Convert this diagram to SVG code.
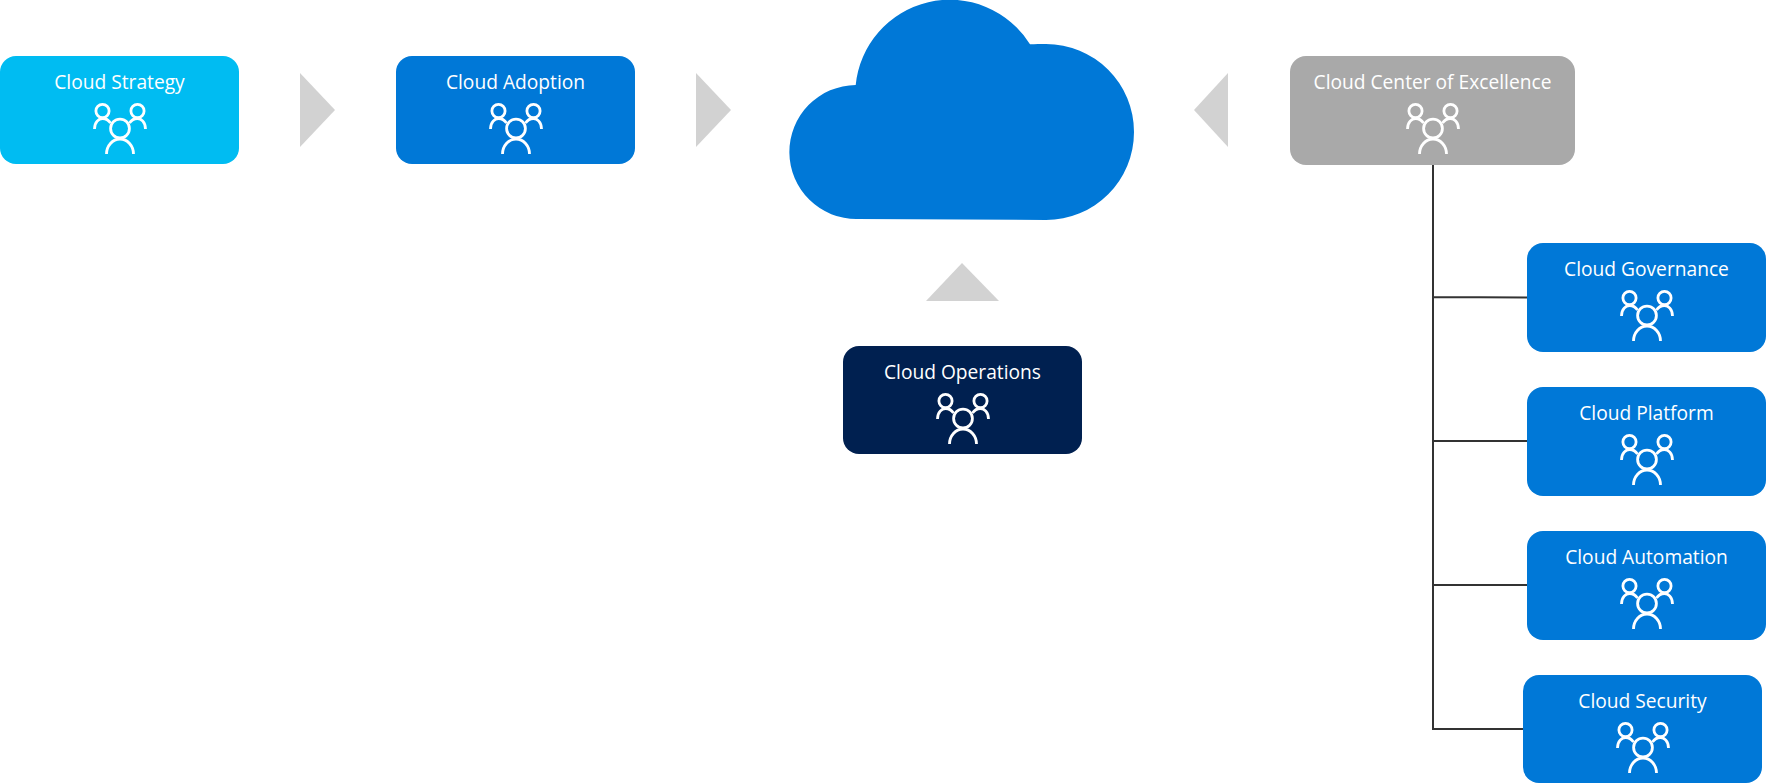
<svg xmlns="http://www.w3.org/2000/svg" width="1766" height="783" viewBox="0 0 1766 783">
<style>
.box{stroke:none}
.lbl{font-family:"Open Sans","Noto Sans","Liberation Sans",sans-serif;font-size:19.2px;fill:#fff;text-anchor:middle}
.ic{fill:none;stroke:#fff;stroke-width:2.8}
.tri{fill:#d2d2d2}
.con{stroke:#333;stroke-width:2;fill:none}
</style>
<defs>
<g id="people" class="ic">
<circle cx="-17.500" cy="55" r="6.600"/><circle cx="17.500" cy="55" r="6.600"/><circle cx="0" cy="72.500" r="9.400"/>
<path d="M-25.500 73C-25.500 66-21 62.500-17.500 62.500C-14 62.500-11.500 64-9.500 67"/>
<path d="M25.500 73C25.500 66 21 62.500 17.500 62.500C14 62.500 11.500 64 9.500 67"/>
<path d="M-13.500 98C-13.500 90-7.500 83 0 83C7.500 83 13.500 90 13.500 98"/>
</g>
</defs>
<rect width="1766" height="783" fill="#fff"/>
<g id="connectors">
<path class="con" d="M1433 165V729H1523M1433 297L1527 297.500M1433 441H1527M1433 585H1527"/>
</g>
<g id="arrows">
<polygon class="tri" points="300,73 335,110 300,147"/>
<polygon class="tri" points="696,73 731,110 696,147"/>
<polygon class="tri" points="1228,73 1194,110 1228,147"/>
<polygon class="tri" points="926,301 962,263 999,301"/>
</g>
<g id="cloud"><path fill="#0078d7" d="M855.700 85A94.500 94.500 0 0 1 1030 44.300C1035 44 1041 44 1046 44A88 88 0 0 1 1046 220L857 219A67 67 0 0 1 855.700 85Z"/></g>
<g id="cloud-strategy"><rect class="box" x="0" y="56" width="239" height="108" rx="16" fill="#00bcf2"/><text class="lbl" x="119.500" y="88.500">Cloud Strategy</text><use href="#people" x="120" y="56"/></g>
<g id="cloud-adoption"><rect class="box" x="396" y="56" width="239" height="108" rx="16" fill="#0078d7"/><text class="lbl" x="515.500" y="88.500">Cloud Adoption</text><use href="#people" x="516" y="56"/></g>
<g id="cloud-coe"><rect class="box" x="1290" y="56" width="285" height="109" rx="16" fill="#a9a9a9"/><text class="lbl" x="1432.500" y="88.500">Cloud Center of Excellence</text><use href="#people" x="1433" y="56"/></g>
<g id="cloud-operations"><rect class="box" x="843" y="346" width="239" height="108" rx="16" fill="#002050"/><text class="lbl" x="962.500" y="378.500">Cloud Operations</text><use href="#people" x="963" y="346"/></g>
<g id="cloud-governance"><rect class="box" x="1527" y="243" width="239" height="109" rx="16" fill="#0078d7"/><text class="lbl" x="1646.500" y="275.500">Cloud Governance</text><use href="#people" x="1647" y="243"/></g>
<g id="cloud-platform"><rect class="box" x="1527" y="387" width="239" height="109" rx="16" fill="#0078d7"/><text class="lbl" x="1646.500" y="419.500">Cloud Platform</text><use href="#people" x="1647" y="387"/></g>
<g id="cloud-automation"><rect class="box" x="1527" y="531" width="239" height="109" rx="16" fill="#0078d7"/><text class="lbl" x="1646.500" y="563.500">Cloud Automation</text><use href="#people" x="1647" y="531"/></g>
<g id="cloud-security"><rect class="box" x="1523" y="675" width="239" height="108" rx="16" fill="#0078d7"/><text class="lbl" x="1642.500" y="707.500">Cloud Security</text><use href="#people" x="1643" y="675"/></g>
</svg>
